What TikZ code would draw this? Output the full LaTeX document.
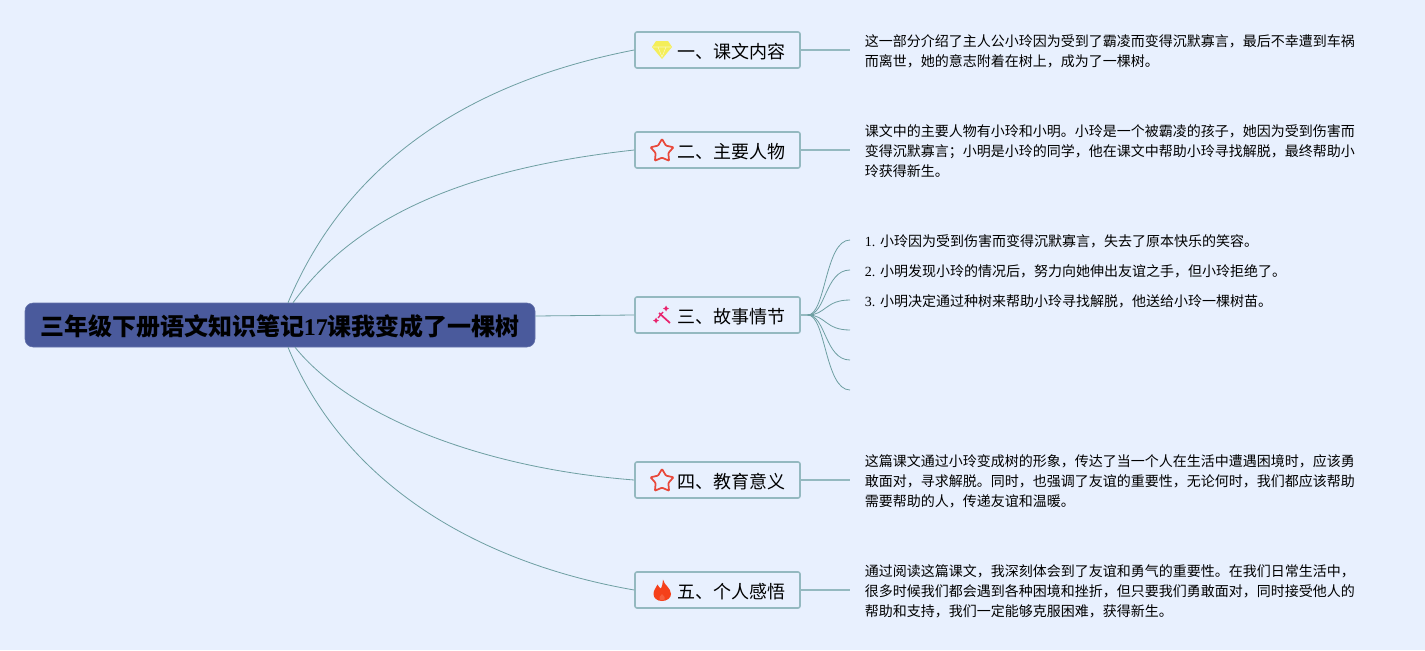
\documentclass[tikz,border=0pt]{standalone}
\usepackage{fontspec}
\setmainfont{Liberation Serif}
\newfontfamily\cjk{Noto Sans CJK SC}
\usepackage{xcolor}
\usetikzlibrary{shapes.geometric,positioning,calc}
\definecolor{pagebg}{HTML}{E8F0FE}
\definecolor{rootfill}{HTML}{4A5A9C}
\definecolor{boxline}{HTML}{94B9C0}
\definecolor{wirecol}{HTML}{6E9FA2}
\definecolor{starred}{HTML}{E8483A}
\definecolor{gemyellow}{HTML}{F4EE5A}
\definecolor{wandpink}{HTML}{E8246E}
\definecolor{flamered}{HTML}{F5401A}
\newcommand{\branchtext}[1]{\hspace{21pt}#1\hspace{2.5pt}}

\begin{document}
\begin{tikzpicture}[
    x=0.75pt, y=-0.75pt,
    root/.style={draw=rootfill!85!white, rounded corners=6pt, fill=rootfill, minimum width=382.5pt,
                 minimum height=33pt, inner sep=0pt, text height=17pt, text depth=1pt,
                 font=\fontsize{18}{20}\selectfont\cjk\bfseries},
    branch/.style={draw=boxline, line width=1.2pt, rounded corners=1.5pt, fill=pagebg, minimum width=123.75pt,
                 minimum height=27pt, inner sep=0pt, text height=13.5pt, text depth=1pt,
                 font=\fontsize{13.5}{16}\selectfont\cjk},
    detail/.style={anchor=west, align=left, inner xsep=11pt, inner ysep=0pt,
                 font=\fontsize{10.5}{15}\selectfont\cjk},
    staricon/.style={star, star points=5, star point ratio=1.8, draw=starred, line width=1.3pt,
                 rounded corners=0.6pt, minimum size=18pt, inner sep=0pt},
    wire/.style={draw=wirecol, line width=0.6pt},
    stub/.style={draw=boxline, line width=0.9pt},
  ]
    \fill[pagebg] (0,0) rectangle (1425,650);

    \node[root] (R) at (280,325) {三年级下册语文知识笔记{\rmfamily 17}课我变成了一棵树};

    \node[branch] (B1) at (717.5,50)  {\branchtext{一、课文内容}};
    \node[branch] (B2) at (717.5,150) {\branchtext{二、主要人物}};
    \node[branch] (B3) at (717.5,315) {\branchtext{三、故事情节}};
    \node[branch] (B4) at (717.5,480) {\branchtext{四、教育意义}};
    \node[branch] (B5) at (717.5,590) {\branchtext{五、个人感悟}};

    % details
    \node[detail] (D1) at (850,51.5)
      {这一部分介绍了主人公小玲因为受到了霸凌而变得沉默寡言，最后不幸遭到车祸\\而离世，她的意志附着在树上，成为了一棵树。};
    \node[detail] (D2) at (850,151.5)
      {课文中的主要人物有小玲和小明。小玲是一个被霸凌的孩子，她因为受到伤害而\\变得沉默寡言；小明是小玲的同学，他在课文中帮助小玲寻找解脱，最终帮助小\\玲获得新生。};
    \node[detail] (D31) at (850,241) {{\rmfamily 1. }小玲因为受到伤害而变得沉默寡言，失去了原本快乐的笑容。};
    \node[detail] (D32) at (850,271) {{\rmfamily 2. }小明发现小玲的情况后，努力向她伸出友谊之手，但小玲拒绝了。};
    \node[detail] (D33) at (850,301) {{\rmfamily 3. }小明决定通过种树来帮助小玲寻找解脱，他送给小玲一棵树苗。};
    \coordinate (D34) at (850,331);
    \coordinate (D35) at (850,361);
    \coordinate (D36) at (850,391);
    \node[detail] (D4) at (850,481.5)
      {这篇课文通过小玲变成树的形象，传达了当一个人在生活中遭遇困境时，应该勇\\敢面对，寻求解脱。同时，也强调了友谊的重要性，无论何时，我们都应该帮助\\需要帮助的人，传递友谊和温暖。};
    \node[detail] (D5) at (850,591.5)
      {通过阅读这篇课文，我深刻体会到了友谊和勇气的重要性。在我们日常生活中，\\很多时候我们都会遇到各种困境和挫折，但只要我们勇敢面对，同时接受他人的\\帮助和支持，我们一定能够克服困难，获得新生。};

    % root to branches
    \draw[wire] ([xshift=6pt]R.north) .. controls +(62,-148) and +(-155,30) .. (B1.west);
    \draw[wire] ([xshift=9.75pt]R.north) .. controls +(67,-93) and +(-155,17) .. (B2.west);
    \draw[wire] ([yshift=6.75pt]R.east) -- (B3.west);
    \draw[wire] ([xshift=11.25pt]R.south) .. controls +(55,68) and +(-155,-12) .. (B4.west);
    \draw[wire] ([xshift=6pt]R.south) .. controls +(57,138) and +(-155,-27) .. (B5.west);

    % branches to details
    \draw[stub] (B1.east) -- (D1.west |- B1.east);
    \draw[stub] (B2.east) -- (D2.west |- B2.east);
    \draw[stub] (B4.east) -- (D4.west |- B4.east);
    \draw[stub] (B5.east) -- (D5.west |- B5.east);
    \draw[stub] (B3.east) -- ++(7,0) coordinate (J3);
    \foreach \leaf in {D31,D32,D33,D34,D35,D36}
      \draw[wire] (J3) .. controls +(18,0) and +(-25,0) .. ([yshift=0.75pt]\leaf.west);

    % icons
    \node[staricon] (S2) at (662,151) {};
    \node[staricon] (S4) at (662,481) {};
    \fill[gemyellow] (656,41) -- (668,41) -- (672,47) -- (662,59) -- (652,47) -- cycle;
    \draw[white, line width=0.4pt, opacity=0.6] (653,47) -- (671,47) (658,47) -- (662,57) -- (666,47);
    \draw[wandpink, line width=1.3pt] (659,313) -- (670,323);
    \draw[wandpink, line width=1pt] (658,318) -- (663,312);
    \fill[wandpink] (666,305.5) -- (667,307.5) -- (669,308.5) -- (667,309.5) -- (666,311.5) -- (665,309.5) -- (663,308.5) -- (665,307.5) -- cycle;
    \fill[wandpink] (656,317.5) -- (657,319.5) -- (659,320.5) -- (657,321.5) -- (656,323.5) -- (655,321.5) -- (653,320.5) -- (655,319.5) -- cycle;
    \fill[flamered] (663,579.5) .. controls (664,585) and (671,588) .. (671,594)
      .. controls (671,598) and (667,601) .. (662,601)
      .. controls (657,601) and (653.5,598) .. (653.5,594)
      .. controls (653.5,590) and (656,588) .. (657.5,584.5)
      .. controls (658.5,587) and (660,588) .. (661,588.5)
      .. controls (662,586) and (663,583) .. (663,579.5) -- cycle;
    \fill[flamered!85!white] (662,594) .. controls (664.5,596) and (665.5,598) .. (664.5,599.5)
      .. controls (663.5,600.5) and (660.5,600.5) .. (659.5,599.5)
      .. controls (658.5,598) and (660,596) .. (662,594) -- cycle;
  \end{tikzpicture}
\end{document}
